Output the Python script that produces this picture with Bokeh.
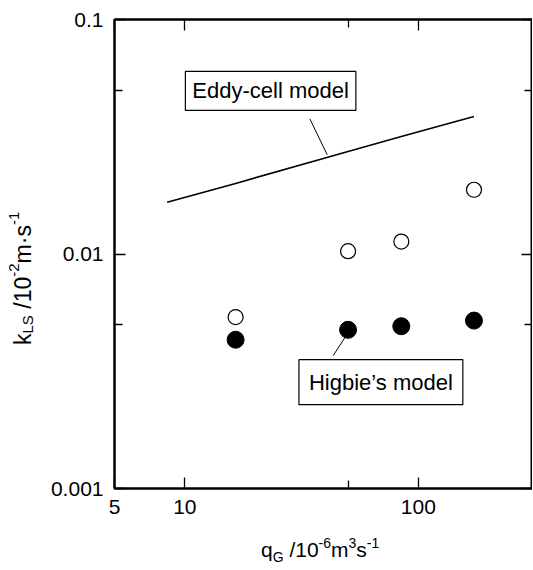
from bokeh.plotting import figure
from bokeh.models import FixedTicker, CustomJSTickFormatter, LogAxis, Label, Div
from bokeh.layouts import row, column
from bokeh.embed import file_html
from bokeh.resources import INLINE

# ---- data ----
qG = [16.5, 50, 84.5, 173]                      # 10^-6 m^3/s
kLS_open = [0.00538, 0.01028, 0.0113, 0.01879]  # measured (open circles)
kLS_filled = [0.00431, 0.00475, 0.00492, 0.00520]  # Higbie's model (filled)
eddy_q = [8.4, 16.5, 50, 84.5, 173]
eddy_k = [0.01663, 0.0200, 0.02735, 0.0317, 0.0386]

x_ticks = [5, 10, 100]
x_minor = [50]
y_ticks = [0.001, 0.01, 0.1]
y_minor = [0.005, 0.05]

# axis titles: (text, kind) with kind 0 = normal, -1 = subscript, 1 = superscript
x_title = [("q", 0), ("G", -1), (" /10", 0), ("-6", 1), ("m", 0),
           ("3", 1), ("s", 0), ("-1", 1)]
y_title = [("k", 0), ("LS", -1), (" /10", 0), ("-2", 1), ("m\u00b7s", 0),
           ("-1", 1)]

# annotation anchors (data coords)
eddy_box = (23.3, 0.0496)
eddy_leader = ((34.3, 0.0377), (40.7, 0.0265))
higbie_box = (69.1, 0.00284)
higbie_leader = ((43.2, 0.00369), (48.8, 0.00445))

FONT = "Liberation Sans"
YDIV_W = 40

p = figure(x_axis_type="log", y_axis_type="log",
           x_range=(5, 308), y_range=(0.001, 0.1),
           frame_width=418, frame_height=469,
           min_border_left=114 - YDIV_W, min_border_right=0,
           min_border_top=19, min_border_bottom=40,
           output_backend="svg", toolbar_location=None, margin=0)
p.xgrid.visible = False
p.ygrid.visible = False
p.outline_line_color = "black"
p.outline_line_width = 2
p.background_fill_color = "white"
p.border_fill_color = "white"

fmt = CustomJSTickFormatter(code="return tick.toString();")
blank = CustomJSTickFormatter(code="return '';")


def style(ax, labels=True):
    ax.axis_line_color = "black"
    ax.axis_line_width = 2
    ax.major_tick_in = 11
    ax.major_tick_out = 0
    ax.minor_tick_in = 8
    ax.minor_tick_out = 0
    ax.major_tick_line_color = "black"
    ax.minor_tick_line_color = "black"
    ax.major_tick_line_width = 1.3
    ax.minor_tick_line_width = 1.3
    ax.major_label_text_font = FONT
    ax.major_label_text_color = "black"
    ax.major_label_text_font_size = "21px"
    if labels:
        ax.major_label_standoff = 11
    else:
        ax.formatter = blank
        ax.major_label_standoff = 0


p.xaxis.ticker = FixedTicker(ticks=x_ticks, minor_ticks=x_minor)
p.yaxis.ticker = FixedTicker(ticks=y_ticks, minor_ticks=y_minor)
p.xaxis.formatter = fmt
p.yaxis.formatter = fmt
style(p.xaxis[0])
style(p.yaxis[0])

top = LogAxis(ticker=FixedTicker(ticks=x_ticks, minor_ticks=x_minor))
right = LogAxis(ticker=FixedTicker(ticks=y_ticks, minor_ticks=y_minor))
style(top, False)
style(right, False)
p.add_layout(top, "above")
p.add_layout(right, "right")

# ---- data marks ----
p.line(eddy_q, eddy_k, line_color="black", line_width=1.6)
p.scatter(qG, kLS_open, marker="circle", size=15, fill_color="white",
          line_color="black", line_width=1.2)
p.scatter(qG, kLS_filled, marker="circle", size=17, fill_color="black",
          line_color="black")

# ---- callouts ----
for (a, b) in (eddy_leader, higbie_leader):
    p.segment(x0=[a[0]], y0=[a[1]], x1=[b[0]], y1=[b[1]],
              line_color="black", line_width=1)

p.add_layout(Label(x=eddy_box[0], y=eddy_box[1], text="Eddy-cell model",
                   text_font=FONT, text_font_size="22px", text_color="black",
                   text_align="center", text_baseline="middle",
                   border_line_color="black", border_line_width=1.2,
                   background_fill_color="white", padding=7))
p.add_layout(Label(x=higbie_box[0], y=higbie_box[1], text="Higbie\u2019s model",
                   text_font=FONT, text_font_size="22px", text_color="black",
                   text_align="center", text_baseline="middle",
                   border_line_color="black", border_line_width=1.2,
                   background_fill_color="white", padding=10))


# ---- axis titles as HTML (real text with sub/superscripts) ----
def title_html(parts, small, sub, sup):
    out = []
    for txt, kind in parts:
        if kind == 0:
            out.append(txt)
        else:
            shift = sub if kind < 0 else sup
            out.append(f'<span style="font-size:{small}px;line-height:0;'
                       f'vertical-align:{shift}px">{txt}</span>')
    return "".join(out)


x_inner = title_html(x_title, 14, -5, 9)
x_html = (f'<div style="font-family:\'{FONT}\';font-size:21px;line-height:21px;'
          f'white-space:nowrap;color:black;padding-left:{261 - YDIV_W}px;'
          f'padding-top:11px">{x_inner}</div>')

y_inner = title_html(y_title, 15, -5, 9)
y_html = (f'<div style="writing-mode:vertical-rl;transform:rotate(180deg);'
          f'font-family:\'{FONT}\';font-size:23px;line-height:23px;'
          f'white-space:nowrap;color:black;margin-left:12px;margin-top:115px;'
          f'height:230px;width:23px">{y_inner}</div>')

ydiv = Div(text=y_html, width=YDIV_W, height=570, margin=0)
xdiv = Div(text=x_html, width=533 - YDIV_W, height=42, margin=0)

layout = row(ydiv, column(p, xdiv, spacing=0), spacing=0)

open("out.html", "w").write(file_html(layout, INLINE))
